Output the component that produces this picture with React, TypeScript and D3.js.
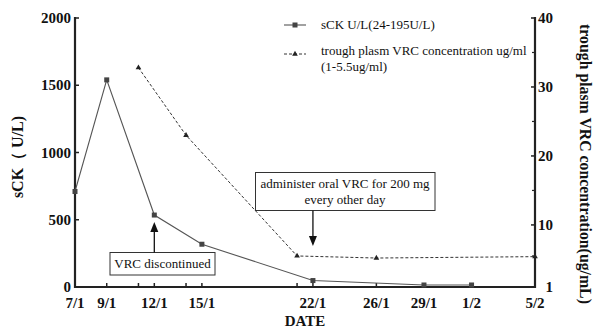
import React from "react";
import * as d3 from "d3";

// sCK (U/L), left axis
const ckDates = ["7/1", "9/1", "12/1", "15/1", "22/1", "29/1", "1/2"];
const ckValues = [710, 1540, 535, 318, 48, 15, 15];
// trough VRC (ug/ml), right axis
const vrcDates = ["11/1", "14/1", "21/1", "26/1", "5/2"];
const vrcValues = [32.8, 23, 5.5, 5.2, 5.4];

const xLabels = ["7/1", "9/1", "12/1", "15/1", "22/1", "26/1", "29/1", "1/2", "5/2"];
const leftTicks = [0, 500, 1000, 1500, 2000];
const rightTicks = [1, 10, 20, 30, 40];
const rightMinor = [5.5, 15, 25, 35];

const FONT = '"Liberation Serif", "Times New Roman", serif';

// "d/m" -> day count from 1 Jan
const toDay = (s: string) => {
  const [d, m] = s.split("/").map(Number);
  return d + (m - 1) * 31;
};

const App = () => {
  const ref = React.useRef<SVGSVGElement>(null);

  React.useEffect(() => {
    const svg = d3.select(ref.current);
    svg.selectAll("*").remove();

    const x = d3.scaleLinear().domain([toDay("7/1"), toDay("5/2")]).range([75, 535]);
    const yL = d3.scaleLinear().domain([0, 2000]).range([287, 18]);
    const yR = d3.scaleLinear().domain([1, 40]).range([287, 18]);

    const axisColor = "#222";
    const g = svg.append("g");

    // axes frame (left, bottom, right)
    g.append("line").attr("x1", 75).attr("x2", 75).attr("y1", 17).attr("y2", 288)
      .attr("stroke", axisColor).attr("stroke-width", 2.2);
    g.append("line").attr("x1", 74).attr("x2", 536).attr("y1", 287).attr("y2", 287)
      .attr("stroke", axisColor).attr("stroke-width", 2.2);
    g.append("line").attr("x1", 535).attr("x2", 535).attr("y1", 17).attr("y2", 288)
      .attr("stroke", axisColor).attr("stroke-width", 2.2);

    // left ticks + labels
    leftTicks.forEach((t) => {
      g.append("line").attr("x1", 75).attr("x2", 79).attr("y1", yL(t)).attr("y2", yL(t))
        .attr("stroke", axisColor).attr("stroke-width", 1.5);
      g.append("text").attr("x", 71).attr("y", yL(t) + 5)
        .attr("text-anchor", "end").attr("font-family", FONT).attr("font-weight", "bold")
        .attr("font-size", "15px").attr("fill", "#111").text(t);
    });

    // right ticks + labels
    rightTicks.forEach((t) => {
      g.append("line").attr("x1", 531).attr("x2", 535).attr("y1", yR(t)).attr("y2", yR(t))
        .attr("stroke", axisColor).attr("stroke-width", 1.5);
      g.append("text").attr("x", 553).attr("y", yR(t) + 5)
        .attr("text-anchor", "end").attr("font-family", FONT).attr("font-weight", "bold")
        .attr("font-size", "15px").attr("fill", "#111").text(t);
    });
    rightMinor.forEach((t) => {
      g.append("line").attr("x1", 532).attr("x2", 535).attr("y1", yR(t)).attr("y2", yR(t))
        .attr("stroke", axisColor).attr("stroke-width", 1.2);
    });

    // bottom ticks at every sample date, labels on some
    const tickDays = Array.from(new Set([...ckDates, ...vrcDates].map(toDay)));
    tickDays.forEach((d) => {
      g.append("line").attr("x1", x(d)).attr("x2", x(d)).attr("y1", 287).attr("y2", 283)
        .attr("stroke", axisColor).attr("stroke-width", 1.5);
    });
    xLabels.forEach((s) => {
      g.append("text").attr("x", x(toDay(s))).attr("y", 308)
        .attr("text-anchor", "middle").attr("font-family", FONT).attr("font-weight", "bold")
        .attr("font-size", "15px").attr("fill", "#111").text(s);
    });

    // axis titles
    g.append("text").attr("transform", "translate(23,157) rotate(-90)")
      .attr("text-anchor", "middle").attr("font-family", FONT).attr("font-weight", "bold")
      .attr("font-size", "16px").attr("fill", "#111").text("sCK（ U/L)");
    g.append("text").attr("transform", "translate(580,164) rotate(90)")
      .attr("text-anchor", "middle").attr("font-family", FONT).attr("font-weight", "bold")
      .attr("font-size", "15.8px").attr("fill", "#111").text("trough plasm VRC concentration(ug/mL)");
    g.append("text").attr("x", 305).attr("y", 326)
      .attr("text-anchor", "middle").attr("font-family", FONT).attr("font-weight", "bold")
      .attr("font-size", "15px").attr("fill", "#111").text("DATE");

    // sCK series
    const ckPts = ckDates.map((d, i) => [x(toDay(d)), yL(ckValues[i])] as [number, number]);
    g.append("path").attr("d", d3.line()(ckPts))
      .attr("fill", "none").attr("stroke", "#555").attr("stroke-width", 1.1);
    ckPts.forEach(([px, py]) => {
      g.append("rect").attr("x", px - 2.5).attr("y", py - 2.5).attr("width", 5).attr("height", 5)
        .attr("fill", "#444");
    });

    // VRC series
    const vrcPts = vrcDates.map((d, i) => [x(toDay(d)), yR(vrcValues[i])] as [number, number]);
    g.append("path").attr("d", d3.line()(vrcPts))
      .attr("fill", "none").attr("stroke", "#333").attr("stroke-width", 1)
      .attr("stroke-dasharray", "3,2");
    const tri = d3.symbol().type(d3.symbolTriangle).size(14);
    vrcPts.forEach(([px, py]) => {
      g.append("path").attr("d", tri()).attr("transform", `translate(${px},${py})`)
        .attr("fill", "#222");
    });

    // legend
    g.append("line").attr("x1", 284).attr("x2", 306).attr("y1", 25).attr("y2", 25)
      .attr("stroke", "#555").attr("stroke-width", 1.1);
    g.append("rect").attr("x", 292.5).attr("y", 22.5).attr("width", 5).attr("height", 5).attr("fill", "#444");
    g.append("text").attr("x", 321).attr("y", 29).attr("font-family", FONT)
      .attr("font-size", "13px").attr("fill", "#111").text("sCK U/L(24-195U/L)");
    g.append("line").attr("x1", 284).attr("x2", 306).attr("y1", 54).attr("y2", 54)
      .attr("stroke", "#333").attr("stroke-width", 1).attr("stroke-dasharray", "3,2");
    g.append("path").attr("d", tri()).attr("transform", "translate(295,54)").attr("fill", "#222");
    g.append("text").attr("x", 321).attr("y", 55).attr("font-family", FONT)
      .attr("font-size", "13px").attr("fill", "#111").text("trough plasm VRC concentration ug/ml");
    g.append("text").attr("x", 321).attr("y", 71).attr("font-family", FONT)
      .attr("font-size", "13px").attr("fill", "#111").text("(1-5.5ug/ml)");

    // annotations
    const drawArrow = (ax: number, y0: number, y1: number) => {
      const dir = y1 < y0 ? 1 : -1;
      g.append("line").attr("x1", ax).attr("x2", ax).attr("y1", y0).attr("y2", y1 + dir * 8)
        .attr("stroke", "#111").attr("stroke-width", 1.3);
      g.append("path")
        .attr("d", `M${ax},${y1} L${ax - 4},${y1 + dir * 10} L${ax + 4},${y1 + dir * 10} Z`)
        .attr("fill", "#111");
    };

    const a1x = x(toDay("12/1"));
    g.append("rect").attr("x", 110).attr("y", 252.5).attr("width", 105).attr("height", 22.5)
      .attr("fill", "white").attr("stroke", "#333").attr("stroke-width", 1);
    g.append("text").attr("x", 162.5).attr("y", 268).attr("text-anchor", "middle")
      .attr("font-family", FONT).attr("font-size", "13px").attr("fill", "#111").text("VRC discontinued");
    drawArrow(a1x, 252.5, 222);

    const a2x = x(toDay("22/1"));
    g.append("rect").attr("x", 255.5).attr("y", 172.5).attr("width", 179.5).attr("height", 38)
      .attr("fill", "white").attr("stroke", "#333").attr("stroke-width", 1);
    g.append("text").attr("x", 345).attr("y", 188).attr("text-anchor", "middle")
      .attr("font-family", FONT).attr("font-size", "13px").attr("fill", "#111")
      .text("administer oral VRC for 200 mg");
    g.append("text").attr("x", 345).attr("y", 204).attr("text-anchor", "middle")
      .attr("font-family", FONT).attr("font-size", "13px").attr("fill", "#111")
      .text("every other day");
    drawArrow(a2x, 210.5, 246);
  }, []);

  return (
    <svg ref={ref} width={596} height={329}
      style={{ position: "absolute", left: 0, top: 0, background: "white" }} />
  );
};

export default App;
